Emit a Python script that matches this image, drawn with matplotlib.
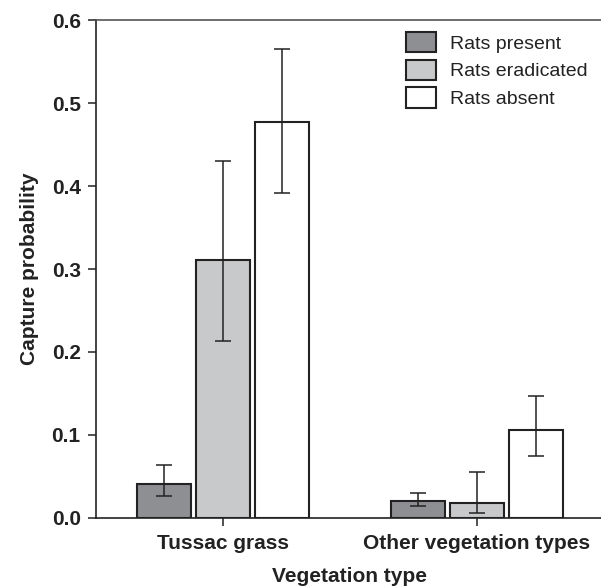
import numpy as np
import matplotlib
matplotlib.use("Agg")
import matplotlib.pyplot as plt

plt.rcParams['font.family'] = ['Liberation Sans', 'DejaVu Sans']

# 数据
groups = ['Tussac grass', 'Other vegetation types']
series = ['Rats present', 'Rats eradicated', 'Rats absent']
colors = ['#8e8f93', '#c8c9cb', '#ffffff']

present = [0.041, 0.0205]
present_lo = [0.026, 0.014]
present_hi = [0.0636, 0.0298]

eradicated = [0.311, 0.018]
eradicated_lo = [0.213, 0.006]
eradicated_hi = [0.430, 0.0555]

absent = [0.477, 0.1055]
absent_lo = [0.392, 0.0748]
absent_hi = [0.565, 0.147]

values = [present, eradicated, absent]
lows = [present_lo, eradicated_lo, absent_lo]
highs = [present_hi, eradicated_hi, absent_hi]

fig = plt.figure(figsize=(6.01, 5.87), dpi=100)
ax = fig.add_axes([0.1597, 0.1181, 0.8453, 0.8470])

x = np.arange(len(groups))
step = 0.2326
width = 0.213
edge = '#222222'

for i, name in enumerate(series):
    pos = x + (i - 1) * step
    v = np.array(values[i])
    yerr = [v - np.array(lows[i]), np.array(highs[i]) - v]
    ax.bar(pos, v, width, color=colors[i], edgecolor=edge, linewidth=1.5,
           label=name, zorder=2)
    ax.errorbar(pos, v, yerr=yerr, fmt='none', ecolor=edge, elinewidth=1.1,
                capsize=5.8, capthick=1.1, zorder=3)

ax.set_xlim(-0.5, 1.5)
ax.set_ylim(0, 0.6)
ax.set_yticks([0.0, 0.1, 0.2, 0.3, 0.4, 0.5, 0.6])
ax.set_yticklabels(['0.0', '0.1', '0.2', '0.3', '0.4', '0.5', '0.6'])
ax.set_xticks(x)
ax.set_xticklabels(groups)

for lab in ax.get_xticklabels() + ax.get_yticklabels():
    lab.set_fontweight('bold')
    lab.set_fontsize(15)
    lab.set_color('#222222')

ax.tick_params(axis='both', length=6, width=1.1, color='#222222', pad=5)
ax.tick_params(axis='x', pad=6)

ax.spines['right'].set_visible(False)
ax.spines['top'].set_color('#555555')
for s in ['left', 'bottom', 'top']:
    ax.spines[s].set_linewidth(1.2)
ax.spines['left'].set_color('#222222')
ax.spines['bottom'].set_color('#222222')

ax.set_xlabel('Vegetation type', fontsize=15, fontweight='bold', color='#222222', labelpad=10)
ax.set_ylabel('Capture probability', fontsize=15, fontweight='bold', color='#222222', labelpad=9)

leg = ax.legend(loc='upper left', bbox_to_anchor=(0.61, 0.977), frameon=False,
                fontsize=14, handlelength=1.55, handleheight=1.24,
                handletextpad=0.7, labelspacing=0.36, borderpad=0, borderaxespad=0)
for t in leg.get_texts():
    t.set_color('#222222')

fig.savefig('out.png', dpi=100)
